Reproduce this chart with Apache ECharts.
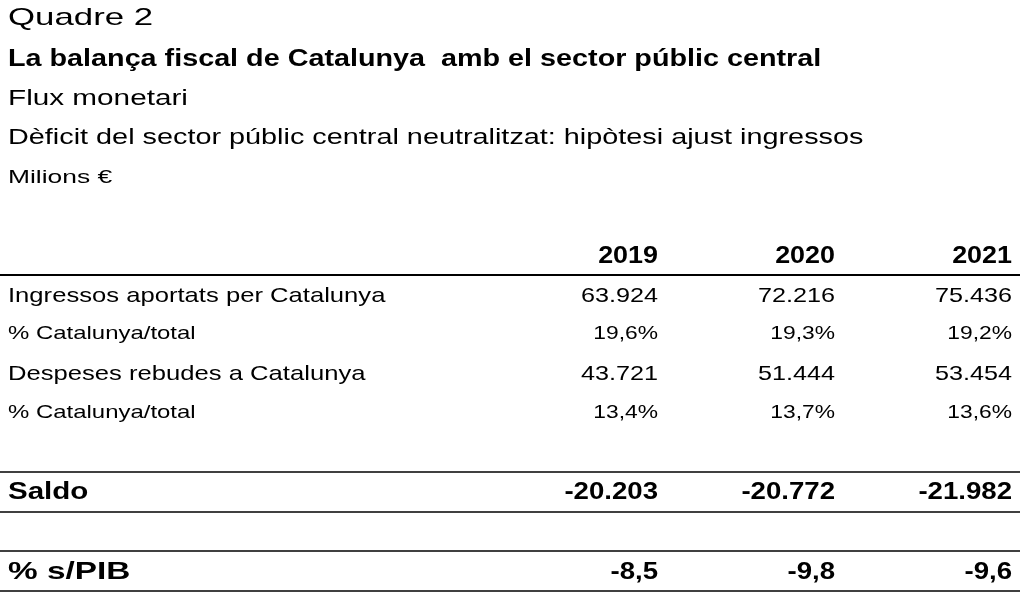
<!DOCTYPE html>
<html>
<head>
<meta charset="UTF-8">
<script src="https://cdn.jsdelivr.net/npm/echarts@6/dist/echarts.min.js"></script>
<style>html,body{margin:0;padding:0;background:#fff}#main{width:1024px;height:596px}</style>
</head>
<body>
<div id="main"></div>
<script>
var years = ['2019', '2020', '2021'];
var rowLabels = ['Ingressos aportats per Catalunya', '% Catalunya/total', 'Despeses rebudes a Catalunya', '% Catalunya/total'];
var ingressos = ['63.924', '72.216', '75.436'];
var pctIngressos = ['19,6%', '19,3%', '19,2%'];
var despeses = ['43.721', '51.444', '53.454'];
var pctDespeses = ['13,4%', '13,7%', '13,6%'];
var saldo = ['-20.203', '-20.772', '-21.982'];
var pctPib = ['-8,5', '-9,8', '-9,6'];

var font = 'Liberation Sans, Arial, sans-serif';
var colX = [658, 835, 1012];
var els = [];

function txt(x, y, s, size, bold, align, sx) {
  els.push({type: 'text', x: x, y: y, scaleX: sx || 1.2, style: {
    text: s, font: (bold ? 'bold ' : '') + size + 'px ' + font,
    fill: '#000', textAlign: align || 'left', textVerticalAlign: 'middle'}});
}
function line(y, w) {
  els.push({type: 'line', shape: {x1: 0, y1: y, x2: 1020, y2: y}, style: {stroke: '#000', lineWidth: w || 1.5}});
}

txt(8, 18, 'Quadre 2', 24, false, 'left', 1.45);
txt(8, 60, 'La balança fiscal de Catalunya  amb el sector públic central', 23, true, 'left', 1.25);
txt(8, 99, 'Flux monetari', 22, false, 'left', 1.35);
txt(8, 138, 'Dèficit del sector públic central neutralitzat: hipòtesi ajust ingressos', 22, false, 'left', 1.31);
txt(8, 178, 'Milions €', 19, false, 'left', 1.39);

years.forEach(function (y, i) { txt(colX[i], 257, y, 23, true, 'right', 1.17); });
line(275, 2);

var rows = [ingressos, pctIngressos, despeses, pctDespeses];
var rowY = [296, 334, 374, 413];
var rowSize = [21, 19, 21, 19];
rows.forEach(function (r, k) {
  txt(8, rowY[k], rowLabels[k], rowSize[k], false, 'left', k % 2 ? 1.26 : 1.22);
  r.forEach(function (v, i) { txt(colX[i], rowY[k], v, rowSize[k], false, 'right', 1.2); });
});

line(472, 1.5);
txt(8, 492, 'Saldo', 24, true, 'left', 1.23);
saldo.forEach(function (v, i) { txt(colX[i], 492, v, 24, true, 'right', 1.15); });
line(512, 1.5);

line(551, 1.5);
txt(8, 572, '% s/PIB', 24, true, 'left', 1.39);
pctPib.forEach(function (v, i) { txt(colX[i], 572, v, 24, true, 'right', 1.15); });
line(591, 1.5);

var chart = echarts.init(document.getElementById('main'));
chart.setOption({animation: false, graphic: els});
</script>
</body>
</html>
